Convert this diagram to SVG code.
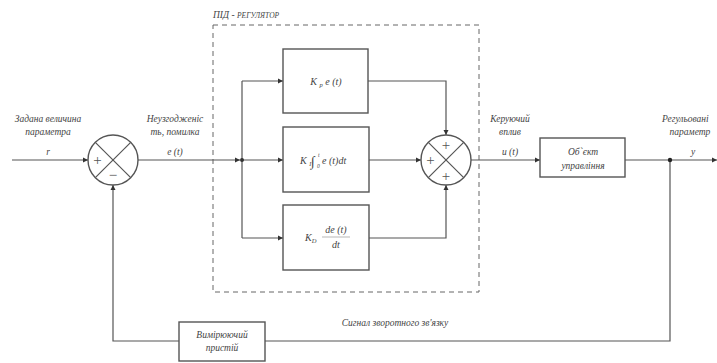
<svg xmlns="http://www.w3.org/2000/svg" width="717" height="363" viewBox="0 0 717 363">
<defs>
<marker id="arr" markerWidth="6" markerHeight="6" refX="5" refY="3" orient="auto" markerUnits="userSpaceOnUse">
<path d="M0,0.5 L5,3 L0,5.5 Z" fill="#333"/>
</marker>
<style>
.ln{stroke:#555;stroke-width:1.2;fill:none}
.bx{stroke:#555;stroke-width:1.4;fill:#fff}
text{font-family:'Liberation Serif','DejaVu Serif',serif;font-style:italic;fill:#444}
.t{font-size:9.5px}
.m{font-size:10px}
.s{font-style:normal;font-size:15px;fill:#555}
.dash{stroke:#666;stroke-width:1;fill:none;stroke-dasharray:5,4}
</style>
</defs>
<rect width="717" height="363" fill="#fff"/>

<g id="pid-frame">
<rect class="dash" x="213" y="25" width="266" height="267"/>
<text class="t" x="213" y="18">ПІД - <tspan font-size="7.5">РЕГУЛЯТОР</tspan></text>
</g>

<g id="connectors">
<line class="ln" x1="12" y1="160" x2="88" y2="160" marker-end="url(#arr)"/>
<line class="ln" x1="138" y1="160" x2="240" y2="160" marker-end="url(#arr)"/>
<line class="ln" x1="242" y1="81" x2="242" y2="238"/>
<line class="ln" x1="242" y1="81" x2="283" y2="81" marker-end="url(#arr)"/>
<line class="ln" x1="242" y1="160" x2="283" y2="160" marker-end="url(#arr)"/>
<line class="ln" x1="242" y1="238" x2="283" y2="238" marker-end="url(#arr)"/>
<polyline class="ln" points="368,81 446,81 446,135" marker-end="url(#arr)"/>
<line class="ln" x1="369" y1="160" x2="421" y2="160" marker-end="url(#arr)"/>
<polyline class="ln" points="369,238 446,238 446,185" marker-end="url(#arr)"/>
<line class="ln" x1="471" y1="160" x2="540" y2="160" marker-end="url(#arr)"/>
<line class="ln" x1="625" y1="160" x2="717" y2="160" marker-end="url(#arr)"/>
<polyline class="ln" points="670,160 670,341 265,341"/>
<polyline class="ln" points="179,341 113,341 113,185" marker-end="url(#arr)"/>
<circle cx="242" cy="160" r="2" fill="#333"/>
<circle cx="670" cy="160" r="2.2" fill="#222"/>
</g>

<g id="sum1">
<circle class="bx" cx="113" cy="160" r="25"/>
<line class="ln" x1="95.3" y1="142.3" x2="130.7" y2="177.7"/>
<line class="ln" x1="130.7" y1="142.3" x2="95.3" y2="177.7"/>
<text class="s" x="97.5" y="165" text-anchor="middle">+</text>
<text class="s" x="113" y="180" text-anchor="middle">−</text>
</g>

<g id="sum2">
<circle class="bx" cx="446" cy="160" r="25"/>
<line class="ln" x1="428.3" y1="142.3" x2="463.7" y2="177.7"/>
<line class="ln" x1="463.7" y1="142.3" x2="428.3" y2="177.7"/>
<text class="s" x="446" y="150" text-anchor="middle">+</text>
<text class="s" x="430.5" y="165" text-anchor="middle">+</text>
<text class="s" x="446" y="181" text-anchor="middle">+</text>
</g>

<g id="block-p">
<rect class="bx" x="283" y="49" width="85" height="64"/>
<text class="m" x="326" y="85" text-anchor="middle">K <tspan font-size="6.5" dy="2">p</tspan><tspan dy="-2"> e (t)</tspan></text>
</g>

<g id="block-i">
<rect class="bx" x="283" y="127" width="86" height="65"/>
<text class="m" x="300" y="164">K <tspan font-size="6" dy="2">I</tspan></text>
<text x="311" y="166" style="font-size:14px;font-style:normal">∫</text>
<text x="318" y="157" style="font-size:5.5px">t</text>
<text x="317" y="168" style="font-size:5.5px">0</text>
<text class="m" x="322" y="164">e (t)dt</text>
</g>

<g id="block-d">
<rect class="bx" x="283" y="205" width="86" height="65"/>
<text class="m" x="305" y="241">K<tspan font-size="6.5" dy="2">D</tspan></text>
<line x1="322" y1="237" x2="350" y2="237" stroke="#999" stroke-width="0.7"/>
<text class="m" x="336" y="233" text-anchor="middle">de (t)</text>
<text class="m" x="336" y="248" text-anchor="middle">dt</text>
</g>

<g id="object">
<rect class="bx" x="540" y="138" width="85" height="39"/>
<text class="t" x="583" y="155" text-anchor="middle">Об`єкт</text>
<text class="t" x="583" y="169" text-anchor="middle">управління</text>
</g>

<g id="sensor">
<rect class="bx" x="179" y="322" width="86" height="39"/>
<text class="t" x="222" y="338" text-anchor="middle">Вимірюючий</text>
<text class="t" x="222" y="351" text-anchor="middle">пристій</text>
</g>

<g id="labels">
<text class="t" x="48" y="122" text-anchor="middle">Задана величина</text>
<text class="t" x="48" y="135" text-anchor="middle">параметра</text>
<text class="t" x="48" y="155" text-anchor="middle">r</text>
<text class="t" x="175" y="122" text-anchor="middle">Неузгодженіс</text>
<text class="t" x="175" y="135" text-anchor="middle">ть, помилка</text>
<text class="t" x="175" y="155" text-anchor="middle">e (t)</text>
<text class="t" x="510" y="122" text-anchor="middle">Керуючий</text>
<text class="t" x="510" y="135" text-anchor="middle">вплив</text>
<text class="t" x="510" y="155" text-anchor="middle">u (t)</text>
<text class="t" x="662" y="122">Регульовані</text>
<text class="t" x="690" y="135" text-anchor="middle">параметр</text>
<text class="t" x="693" y="155" text-anchor="middle">y</text>
<text class="t" x="395" y="326" text-anchor="middle">Сигнал зворотного зв'язку</text>
</g>
</svg>
